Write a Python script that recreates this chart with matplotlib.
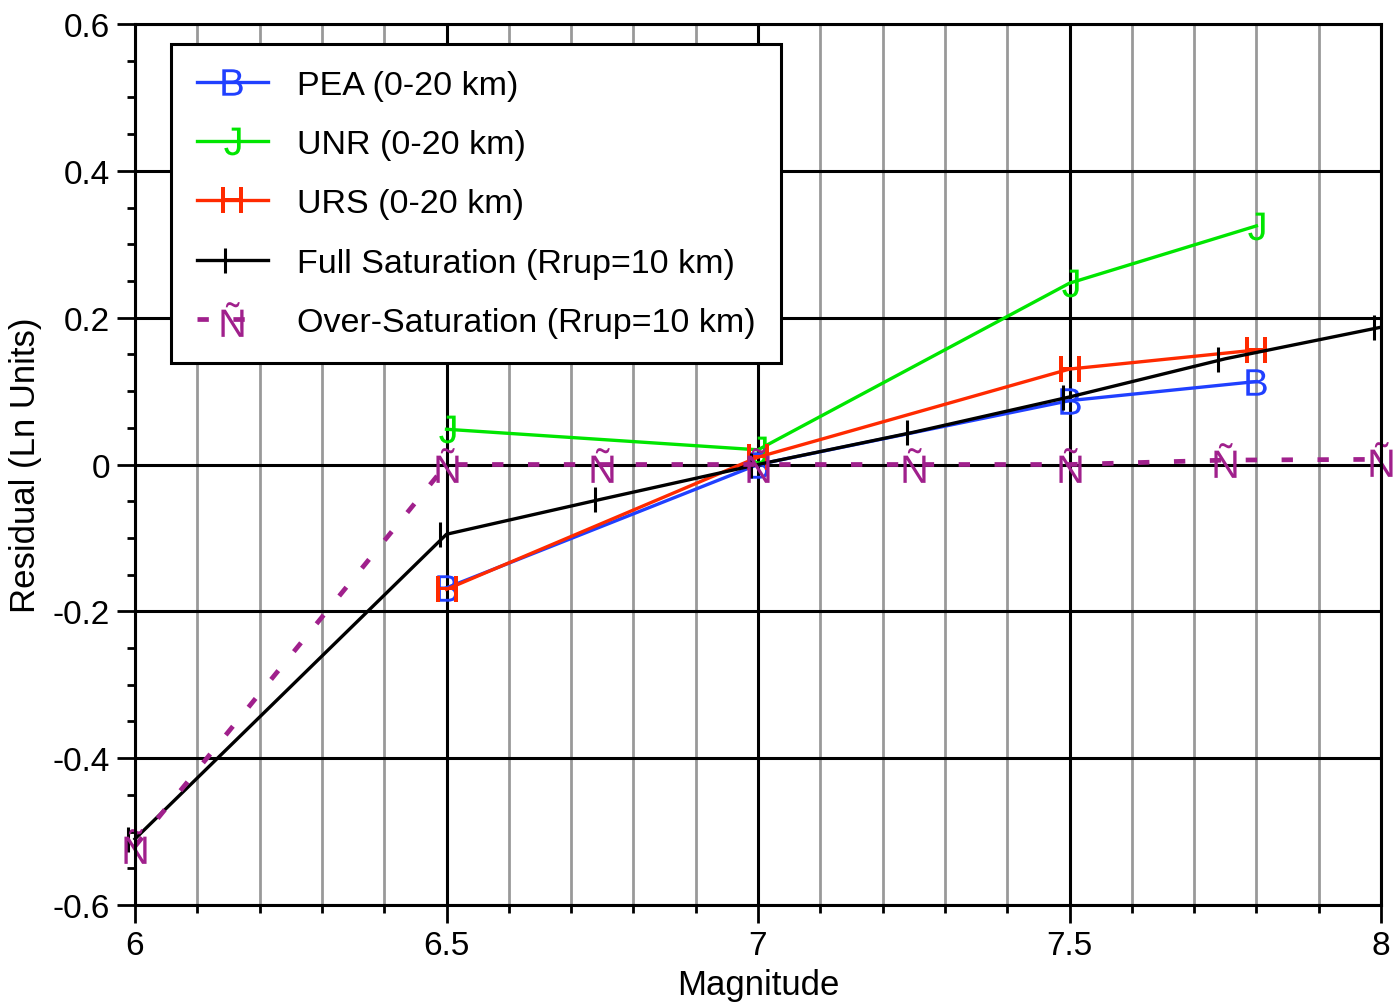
import matplotlib
matplotlib.use("Agg")
import matplotlib.pyplot as plt
from matplotlib.ticker import MultipleLocator, FuncFormatter
from matplotlib.path import Path

plt.rcParams['font.family'] = ['Liberation Sans', 'DejaVu Sans']
plt.rcParams['axes.unicode_minus'] = False
plt.rcParams['mathtext.fontset'] = 'custom'
plt.rcParams['mathtext.rm'] = 'Liberation Sans'

# données
mag_models = [6.5, 7.0, 7.5, 7.8]
pea = [-0.168, 0.0, 0.087, 0.113]
unr = [0.048, 0.020, 0.247, 0.325]
urs = [-0.170, 0.010, 0.130, 0.156]

mag_sat = [6.0, 6.5, 6.75, 7.0, 7.25, 7.5, 7.75, 8.0]
full_sat = [-0.51, -0.095, -0.047, 0.0, 0.044, 0.092, 0.144, 0.187]
over_sat = [-0.52, 0.0, 0.0, 0.0, 0.0, 0.0, 0.006, 0.007]

labels = ["PEA (0-20 km)", "UNR (0-20 km)", "URS (0-20 km)",
          "Full Saturation (Rrup=10 km)", "Over-Saturation (Rrup=10 km)"]

fig = plt.figure(figsize=(13.93, 10.03), dpi=100)
ax = fig.add_axes([135 / 1393, 1 - 906 / 1003, 1246 / 1393, 881 / 1003])

ax.set_xlim(6, 8)
ax.set_ylim(-0.6, 0.6)
ax.xaxis.set_major_locator(MultipleLocator(0.5))
ax.xaxis.set_minor_locator(MultipleLocator(0.1))
ax.yaxis.set_major_locator(MultipleLocator(0.2))
ax.yaxis.set_minor_locator(MultipleLocator(0.05))

def fmt(v, pos):
    s = "%.1f" % v
    if s.endswith(".0"):
        s = s[:-2]
    if s == "-0":
        s = "0"
    return s

ax.xaxis.set_major_formatter(FuncFormatter(fmt))
ax.yaxis.set_major_formatter(FuncFormatter(fmt))

# grille
ax.grid(which='minor', axis='x', color='#999999', lw=2.0)
ax.grid(which='major', axis='both', color='black', lw=2.2)
ax.set_axisbelow(True)

ax.tick_params(which='major', direction='out', length=13, width=2, labelsize=24, pad=5)
ax.tick_params(which='minor', direction='out', length=6, width=2)
ax.tick_params(axis='x', which='both', top=False)
ax.tick_params(axis='y', which='both', right=False)
for sp in ax.spines.values():
    sp.set_linewidth(2.2)

# trait vertical un peu decale a gauche, comme dans l'original
tick_mark = Path([(-0.3, -0.5), (-0.3, 0.5)], [Path.MOVETO, Path.LINETO])

ax.plot(mag_models, pea, color='#2040ff', lw=2.4, marker='$\\mathrm{B}$', ms=19, mew=0,
        label=labels[0], clip_on=False)
ax.plot(mag_models, unr, color='#00e600', lw=2.4, marker='$\\mathrm{J}$', ms=20, mew=0,
        label=labels[1], clip_on=False)
ax.plot(mag_models, urs, color='#ff2a00', lw=2.4, marker='$\\mathrm{H}$', ms=19, mew=0,
        label=labels[2], clip_on=False)
ax.plot(mag_sat, full_sat, color='black', lw=2.4, marker=tick_mark, ms=18, mew=2.2,
        label=labels[3], clip_on=False)
ax.plot(mag_sat, over_sat, color='#a0208c', lw=3.4, ls=(0, (2.4, 5.2)),
        marker='$\\mathrm{Ñ}$', ms=25, mew=0, label=labels[4], clip_on=False)

ax.set_xlabel("Magnitude", fontsize=25, labelpad=5)
ax.set_ylabel("Residual (Ln Units)", fontsize=25, labelpad=8)

leg = ax.legend(loc='upper left', bbox_to_anchor=(0.029, 0.977), borderaxespad=0,
                fontsize=24.5, frameon=True, fancybox=False, framealpha=1,
                edgecolor='black', handlelength=2.1, handletextpad=0.85,
                labelspacing=0.83, borderpad=0.75)
leg.get_frame().set_linewidth(2.2)

fig.savefig("out.png", dpi=100)
